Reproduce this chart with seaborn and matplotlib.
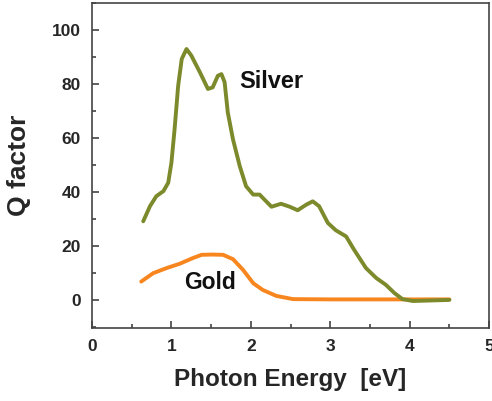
import numpy as np
import pandas as pd
import seaborn as sns
import matplotlib.pyplot as plt
from matplotlib.ticker import MultipleLocator

# Silver Q factor vs photon energy
silver_ev = [0.645, 0.73, 0.81, 0.90, 0.96, 1.00, 1.04, 1.085, 1.13, 1.19, 1.25, 1.36,
             1.46, 1.52, 1.585, 1.63, 1.67, 1.71, 1.775, 1.86, 1.94, 2.03, 2.11, 2.17,
             2.26, 2.38, 2.49, 2.59, 2.70, 2.78, 2.86, 2.97, 3.07, 3.20, 3.30, 3.45,
             3.58, 3.70, 3.81, 3.91, 4.04, 4.50]
silver_q = [29.1, 34.7, 38.4, 40.3, 43.4, 50.8, 63.2, 79.3, 89.2, 92.9, 90.5, 84.2,
            78.1, 78.7, 83.0, 83.6, 80.6, 69.4, 59.5, 49.6, 42.1, 39.0, 39.0, 37.2,
            34.5, 35.6, 34.5, 33.2, 35.3, 36.5, 34.7, 28.5, 25.8, 23.5, 18.6, 11.8,
            8.1, 5.6, 2.5, 0.3, -0.4, 0.0]

# Gold Q factor
gold_ev = [0.62, 0.77, 0.94, 1.105, 1.27, 1.38, 1.52, 1.65, 1.775, 1.90, 2.03, 2.15,
           2.32, 2.53, 3.0, 4.50]
gold_q = [6.8, 9.9, 11.8, 13.4, 15.5, 16.7, 16.8, 16.7, 15.1, 11.2, 6.2, 3.7,
          1.5, 0.3, 0.2, 0.2]

df = pd.concat([
    pd.DataFrame({"ev": gold_ev, "q": gold_q, "metal": "Gold"}),
    pd.DataFrame({"ev": silver_ev, "q": silver_q, "metal": "Silver"}),
])

sns.set_style("ticks")
plt.rcParams['font.family'] = ['Liberation Sans', 'DejaVu Sans']

fig = plt.figure(figsize=(4.92, 4.01), dpi=100)
ax = fig.add_axes([0.187, 0.182, 0.807, 0.811])

sns.lineplot(data=df, x="ev", y="q", hue="metal", sort=False,
             palette={"Silver": "#7d8a2c", "Gold": "#f7861f"},
             linewidth=2.8, legend=False, ax=ax,
             solid_joinstyle="round", solid_capstyle="round")

ax.text(2.26, 81, "Silver", fontsize=17, fontweight="bold", ha="center", va="center",
        color="#111111")
ax.text(1.48, 6.5, "Gold", fontsize=16.5, fontweight="bold", ha="center", va="center",
        color="#111111")

ax.set_xlim(0, 5)
ax.set_ylim(-10.4, 110)
ax.xaxis.set_major_locator(MultipleLocator(1))
ax.xaxis.set_minor_locator(MultipleLocator(0.5))
ax.yaxis.set_major_locator(MultipleLocator(20))
ax.yaxis.set_minor_locator(MultipleLocator(10))
ax.tick_params(which="both", direction="in", labelsize=12.5, width=1.2, color="#444444")
ax.tick_params(which="major", length=5, pad=8)
ax.tick_params(which="minor", length=3)
for lbl in ax.get_xticklabels() + ax.get_yticklabels():
    lbl.set_fontweight("bold")

for side in ["left", "bottom", "top", "right"]:
    ax.spines[side].set_visible(True)
    ax.spines[side].set_color("#444444")
    ax.spines[side].set_linewidth(1.2)

ax.set_xlabel("Photon Energy  [eV]", fontsize=17.5, fontweight="bold", labelpad=10)
ax.set_ylabel("Q factor", fontsize=19, fontweight="bold", labelpad=15)

fig.savefig("out.png", dpi=100)
